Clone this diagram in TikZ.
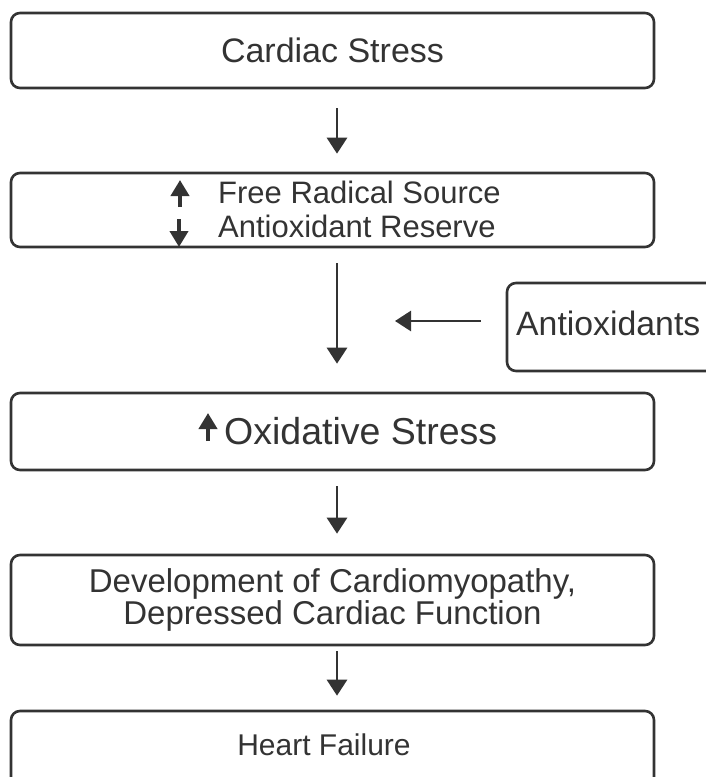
\documentclass[tikz,border=0pt]{standalone}
\usepackage{fontspec}
\setmainfont{Liberation Sans}
\usetikzlibrary{arrows.meta}
\definecolor{ink}{HTML}{333333}
\begin{document}
\begin{tikzpicture}[x=1pt,y=-1pt,
  box/.style={draw=ink, line width=2.6pt, rounded corners=9pt, minimum width=643pt, inner sep=0pt, text=ink},
  flow/.style={draw=ink, line width=2.8pt, -{Triangle[width=20pt,length=16pt]}},
  tinyarrow/.style={draw=ink, line width=4.5pt, -{Triangle[width=18pt,length=16pt]}},
  lbl/.style={text=ink, inner sep=0pt}]
\useasboundingbox (0,0) rectangle (706,777);
\clip (0,0) rectangle (706,777);
\node[box, minimum height=75pt, font=\fontsize{34}{36}\selectfont] (b1) at (332.5,50.5) {Cardiac Stress};
\node[box, minimum height=74pt] (b2) at (332.5,210) {};
\node[lbl, anchor=west, align=left, font=\fontsize{31}{34}\selectfont] (t2) at (218,209) {Free Radical Source\\Antioxidant Reserve};
\draw[tinyarrow] (180,207) -- (180,180);
\draw[tinyarrow] (179,219) -- (179,247);
\node[box, minimum height=77pt] (b3) at (332.5,431.5) {};
\node[lbl, anchor=west, font=\fontsize{37.5}{40}\selectfont] (t3) at (224,431) {Oxidative Stress};
\draw[tinyarrow] (208,441) -- (208,413);
\node[box, minimum height=90pt, align=center, font=\fontsize{33}{32}\selectfont] (b4) at (332.5,600) {Development of Cardiomyopathy,\\Depressed Cardiac Function};
\node[box, minimum height=98pt] (b5) at (332.5,760) {};
\node[lbl, font=\fontsize{30}{32}\selectfont] (t5) at (324,745) {Heart Failure};
\node[box, minimum width=223pt, minimum height=88pt] (anti) at (618.5,327) {};
\node[lbl, anchor=west, font=\fontsize{33.8}{36}\selectfont] (t6) at (516,323) {Antioxidants};
\coordinate (inh) at (395,321);
\draw[flow, shorten <=19pt, shorten >=18pt] ([xshift=4.5pt]b1.south) -- ([xshift=4.5pt]b2.north);
\draw[flow, shorten <=15pt, shorten >=28pt] ([xshift=4.5pt]b2.south) -- ([xshift=4.5pt]b3.north);
\draw[flow, shorten <=15pt, shorten >=20pt] ([xshift=4.5pt]b3.south) -- ([xshift=4.5pt]b4.north);
\draw[flow, shorten <=5pt, shorten >=14pt] ([xshift=4.5pt]b4.south) -- ([xshift=4.5pt]b5.north);
\draw[flow, shorten <=25pt] (anti.west |- inh) -- (inh);
\end{tikzpicture}
\end{document}
